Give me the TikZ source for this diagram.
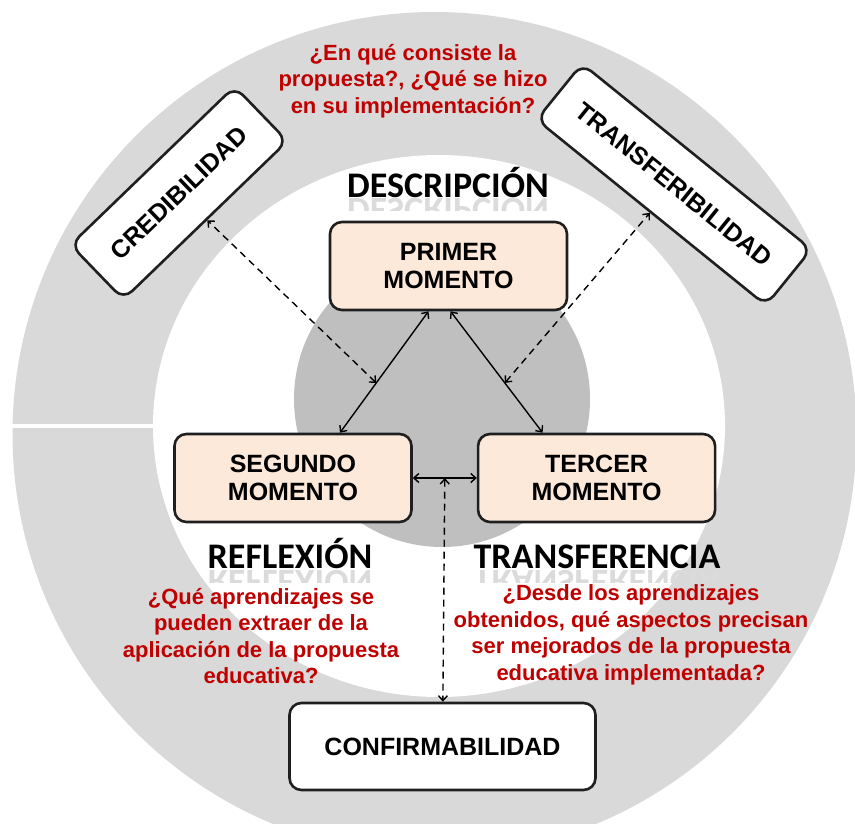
\documentclass[tikz,border=0pt]{standalone}
\usepackage{fontspec}
\setmainfont{Liberation Sans}
\newfontfamily\phasefont{Carlito}
\usetikzlibrary{arrows.meta,positioning}

\definecolor{ringgray}{HTML}{D9D9D9}
\definecolor{coregray}{HTML}{BFBFBF}
\definecolor{peach}{HTML}{FCE9DA}
\definecolor{askred}{HTML}{C00000}

\begin{document}
\begin{tikzpicture}[x=1pt,y=-1pt,
                    >={Straight Barb[length=5pt,width=9pt]},
                    momento/.style={draw=black!88,line width=2.6pt,rounded corners=12pt,fill=peach,
                                    align=center,minimum width=237pt,minimum height=88pt,
                                    font=\bfseries\fontsize{25}{28.5}\selectfont},
                    criterio/.style={draw=black!88,line width=2.6pt,rounded corners=12pt,fill=white,
                                     font=\bfseries\fontsize{25}{28}\selectfont},
                    pregunta/.style={text=askred,align=center,inner sep=0pt,
                                     font=\bfseries\fontsize{22}{26.5}\selectfont},
                    fase/.style={anchor=base,inner sep=0pt,font=\phasefont\bfseries\fontsize{36}{40}\selectfont},
                    mirror/.style={fase,yscale=-1,transform shape,text=black!14},
                    link/.style={<->,line width=1.4pt},
                    dashlink/.style={<->,line width=1.4pt,dash pattern=on 7pt off 5pt}]
\useasboundingbox (0,0) rectangle (855,824);

% ring and core
\fill[ringgray] (434.5,434) circle[radius=422];
\fill[white] (439,426) ellipse[x radius=286,y radius=271];
\fill[white] (0,424) rectangle (158,428);
\fill[coregray] (442,399) circle[radius=148];

% the three moments
\node[momento] (m1) at (448.5,266) {PRIMER\\MOMENTO};
\node[momento] (m2) at (293,478) {SEGUNDO\\MOMENTO};
\node[momento,right=64pt of m2] (m3) {TERCER\\MOMENTO};

% criteria
\node[criterio,rotate=44,minimum width=228pt,minimum height=76pt] (cred) at (179,193) {CREDIBILIDAD};
\node[criterio,rotate=-39,minimum width=295pt,minimum height=72pt] (transf) at (674,184.5) {TRANSFERIBILIDAD};
\node[criterio,minimum width=306pt,minimum height=87pt] (conf) at (442.5,746.5) {CONFIRMABILIDAD};

% links
\draw[link] ([xshift=-20pt]m1.south) -- coordinate[pos=.59] (mid12) ([xshift=47pt]m2.north);
\draw[link] ([xshift=2pt]m1.south) -- coordinate[pos=.59] (mid13) ([xshift=-54pt]m3.north);
\draw[link] (m2.east) -- coordinate (mid23) (m3.west);
\path (mid12) edge[dashlink] (cred);
\path (mid13) edge[dashlink] (transf);
\path (mid23) edge[dashlink] (conf);

% phases
\node[fase] (desc) at (448,197) {DESCRIPCIÓN};
\node[fase] (refl) at (290,568) {REFLEXIÓN};
\node[fase] (transfer) at (597,568) {TRANSFERENCIA};
\begin{scope}
  \clip (340,199) rectangle (560,211);
  \node[mirror] (descm) at (448,199) {DESCRIPCIÓN};
\end{scope}
\begin{scope}
  \clip (190,570) rectangle (390,582);
  \node[mirror] (reflm) at (290,570) {REFLEXIÓN};
\end{scope}
\begin{scope}
  \clip (450,570) rectangle (745,582);
  \node[mirror] (transferm) at (597,570) {TRANSFERENCIA};
\end{scope}

% questions
\node[pregunta] (q1) at (413,81) {¿En qué consiste la\\propuesta?, ¿Qué se hizo\\en su implementación?};
\node[pregunta] (q2) at (261,636) {¿Qué aprendizajes se\\pueden extraer de la\\aplicación de la propuesta\\educativa?};
\node[pregunta] (q3) at (631,635) {¿Desde los aprendizajes\\obtenidos, qué aspectos precisan\\ser mejorados de la propuesta\\educativa implementada?};

\end{tikzpicture}
\end{document}
